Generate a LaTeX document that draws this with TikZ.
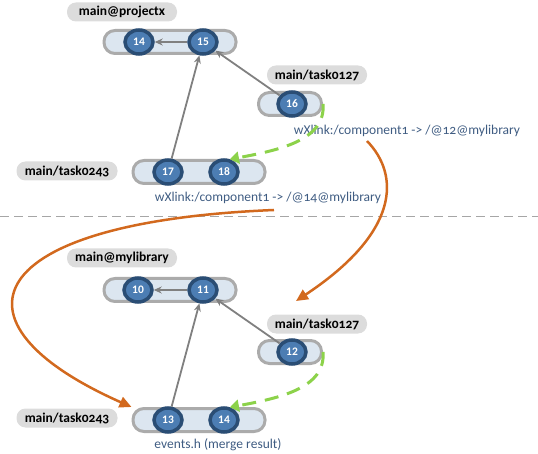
\documentclass[tikz,border=0pt]{standalone}
\usepackage{fontspec}
\setmainfont{Carlito}[Numbers=OldStyle]
\newfontfamily\numfont{Carlito}[Numbers=Lining]
\usetikzlibrary{shapes.geometric,arrows.meta}
\definecolor{barfill}{HTML}{DCE6F0}
\definecolor{barline}{HTML}{ABABAB}
\definecolor{commitfill}{HTML}{4C7DB3}
\definecolor{commitline}{HTML}{2A4D74}
\definecolor{tagfill}{HTML}{DCDCDC}
\definecolor{linktext}{HTML}{3F5C82}
\definecolor{mergeline}{HTML}{D2691E}
\definecolor{linkline}{HTML}{8CD24A}
\begin{document}
\begin{tikzpicture}[x=1pt,y=-1pt,
    branch/.style={draw=barline,fill=barfill,line width=3pt,rounded corners=11pt,minimum height=23pt,inner sep=0pt},
    commit/.style={ellipse,draw=commitline,fill=commitfill,line width=3.5pt,minimum width=28pt,minimum height=24pt,inner sep=0pt,text=white,font=\numfont\bfseries\fontsize{11.5}{11.5}\selectfont},
    tag/.style={fill=tagfill,rounded corners=9pt,minimum height=19pt,inner sep=0pt,font=\bfseries\fontsize{13.5}{13.5}\selectfont},
    note/.style={text=linktext,inner sep=0pt,font=\fontsize{13.5}{14}\selectfont},
    parent/.style={draw=gray,line width=1.8pt,-{Stealth[length=8pt,width=7pt]}},
    link/.style={draw=linkline,line width=3pt,dash pattern=on 14pt off 9pt,-{Triangle[length=9pt,width=12pt]}},
    merge/.style={draw=mergeline,line width=2.5pt,-{Triangle[length=12pt,width=11pt]}},
    sep/.style={draw=gray!70,line width=1pt,dash pattern=on 9pt off 5pt}]
  \useasboundingbox (0,0) rectangle (538,454);
  \draw
    (122,12) node[tag,minimum width=110pt] (tpx){main@projectx}
    (170,42) node[branch,minimum width=132pt] (bpx){}
    (139,42) node[commit] (p14){14}
    (203,42) node[commit] (p15){15}
    (317,75) node[tag,minimum width=100pt] (tt127){main/task0127}
    (290,104) node[branch,minimum width=63pt] (bt16){}
    (292,104) node[commit] (p16){16}
    (407,131) node[note] (n12){wXlink:/component1 -> /@12@mylibrary}
    (67,171) node[tag,minimum width=101pt] (tt243){main/task0243}
    (199,172) node[branch,minimum width=132pt] (bt17){}
    (168,172) node[commit] (p17){17}
    (224,172) node[commit] (p18){18}
    (268,198) node[note] (n14){wXlink:/component1 -> /@14@mylibrary};
  \draw
    (122,258) node[tag,minimum width=110pt] (tml){main@mylibrary}
    (170,290) node[branch,minimum width=132pt] (bml){}
    (138,290) node[commit] (l10){10}
    (203,290) node[commit] (l11){11}
    (317,324) node[tag,minimum width=100pt] (lt127){main/task0127}
    (290,352) node[branch,minimum width=63pt] (lb12){}
    (292,352) node[commit] (l12){12}
    (67,418) node[tag,minimum width=101pt] (lt243){main/task0243}
    (199,420) node[branch,minimum width=132pt] (lb13){}
    (168,420) node[commit] (l13){13}
    (224,420) node[commit] (l14){14}
    (218,445) node[note] (nev){events.h (merge result)};
  \coordinate (sepl) at (0,217);
  \coordinate (sepr) at (538,217);
  \coordinate (m1s) at (367,141);
  \coordinate (m1e) at (296,301);
  \coordinate (m2s) at (274,210);
  \draw[sep] (sepl) -- (sepr);
  \begin{scope}[parent]
    \draw (p15) -- (p14);
    \draw (p16) -- (p15);
    \draw (p17) -- (p15);
    \draw (l11) -- (l10);
    \draw (l12) -- (l11);
    \draw (l13) -- (l11);
  \end{scope}
  \draw[link] (bt16.east) .. controls (326,140) and (280,150) .. (p18.65);
  \draw[link] (lb12.east) .. controls (326,388) and (280,398) .. (l14.65);
  \draw[merge] (m1s) .. controls (400,175) and (400,232) .. (m1e);
  \draw[merge] (m2s) .. controls (-20,222) and (-60,322) .. (lb13.north west);
\end{tikzpicture}
\end{document}
